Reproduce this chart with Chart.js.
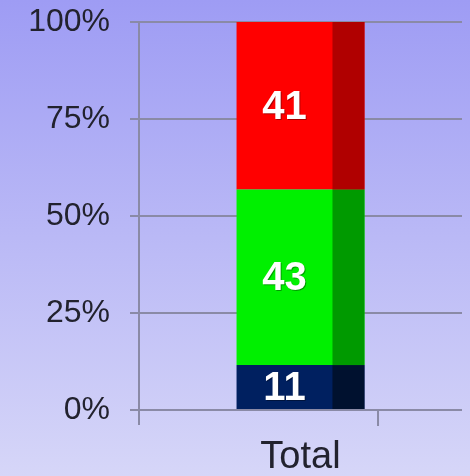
<!DOCTYPE html>
<html>
<head>
<meta charset="utf-8">
<script src="https://cdn.jsdelivr.net/npm/chart.js@4/dist/chart.umd.min.js"></script>
<style>
  html, body { margin: 0; padding: 0; }
  #wrap { width: 470px; height: 476px; }
</style>
</head>
<body>
<div id="wrap"><canvas id="myChart"></canvas></div>
<script>
const categories = ['Total'];
const seriesNames = ['Low', 'Medium', 'High'];
const counts = [11, 43, 41];
const yTicks = ['0%', '25%', '50%', '75%', '100%'];

const frontColors = ['#002060', '#00f000', '#ff0000'];
const sideColors = ['#00112f', '#009a00', '#b00000'];

const total = counts.reduce((a, b) => a + b, 0);

document.addEventListener('DOMContentLoaded', function () {
    const ctx = document.getElementById('myChart').getContext('2d');

    new Chart(ctx, {
        type: 'bar',
        data: {
            labels: categories,
            datasets: counts.map(function (c, i) {
                return {
                    label: seriesNames[i],
                    data: [c / total * 100],
                    backgroundColor: frontColors[i],
                    borderWidth: 0,
                    barPercentage: 0.396,
                    categoryPercentage: 1
                };
            })
        },
        options: {
            responsive: true,
            maintainAspectRatio: false,
            animation: false,
            layout: { padding: { top: 22, right: 8, left: 0, bottom: 0 } },
            scales: {
                x: {
                    stacked: true,
                    grid: { display: false },
                    border: { display: false },
                    ticks: {
                        color: '#22222e',
                        padding: 17,
                        font: { family: 'Liberation Sans', size: 38 }
                    },
                    afterFit: function (scale) { scale.height = 66; }
                },
                y: {
                    stacked: true,
                    min: 0,
                    max: 100,
                    ticks: {
                        stepSize: 25,
                        padding: 20,
                        color: '#22222e',
                        font: { family: 'Liberation Sans', size: 32 },
                        callback: function (v, i) { return yTicks[i]; }
                    },
                    grid: {
                        color: '#8a8aa6',
                        lineWidth: 2,
                        tickLength: 9
                    },
                    border: { display: true, color: '#8a8aa6', width: 2 },
                    afterFit: function (scale) {
                        scale.width = 139;
                        scale.paddingTop = 0;
                        scale.paddingBottom = 0;
                    }
                }
            },
            plugins: {
                legend: { display: false },
                tooltip: { enabled: false }
            }
        },
        plugins: [{
            beforeDraw: function (chart) {
                const c = chart.ctx;
                const g = c.createLinearGradient(0, 0, 0, chart.height);
                g.addColorStop(0, '#9e9cf4');
                g.addColorStop(1, '#d6d6f8');
                c.save();
                c.fillStyle = g;
                c.fillRect(0, 0, chart.width, chart.height);
                c.restore();
            },
            afterDatasetsDraw: function (chart) {
                const c = chart.ctx;
                const area = chart.chartArea;
                c.save();
                // axis extension and the lone category tick
                c.strokeStyle = '#8a8aa6';
                c.lineWidth = 2;
                c.beginPath();
                c.moveTo(area.left, area.bottom);
                c.lineTo(area.left, area.bottom + 15);
                const tx = area.left + (area.right - area.left) * 0.74;
                c.moveTo(tx, area.bottom);
                c.lineTo(tx, area.bottom + 16);
                c.stroke();

                chart.data.datasets.forEach(function (dataset, i) {
                    const bar = chart.getDatasetMeta(i).data[0];
                    const right = bar.x + bar.width / 2;
                    const side = bar.width * 0.25;
                    c.fillStyle = sideColors[i];
                    c.fillRect(right - side, bar.y, side, bar.base - bar.y);

                    const lx = bar.x - side / 2;
                    const ly = (bar.y + bar.base) / 2;
                    c.font = 'bold 40px "Liberation Sans"';
                    c.textAlign = 'center';
                    c.textBaseline = 'middle';
                    c.fillStyle = 'rgba(0,0,0,0.35)';
                    c.fillText(String(counts[i]), lx + 1, ly + 3);
                    c.fillStyle = '#ffffff';
                    c.fillText(String(counts[i]), lx, ly + 2);
                });
                c.restore();
            }
        }]
    });
});
</script>
</body>
</html>
